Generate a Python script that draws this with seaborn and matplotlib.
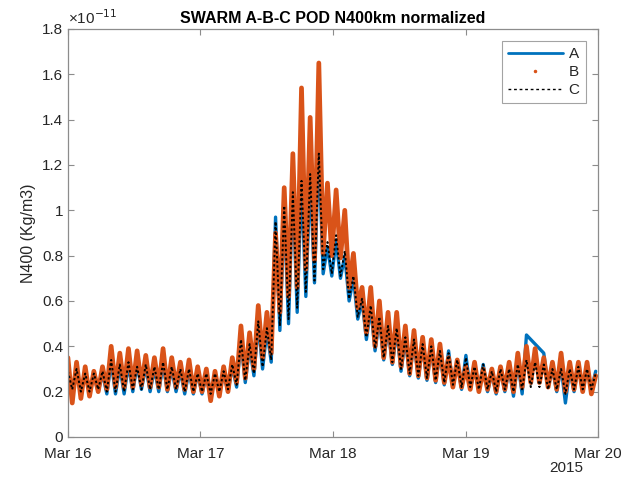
import numpy as np
import pandas as pd
import matplotlib
matplotlib.use("Agg")
import matplotlib.pyplot as plt
import matplotlib.dates as mdates
from matplotlib.lines import Line2D
import seaborn as sns

# ---- data (units of 1e-11 Kg/m3), sampled every 47 min from 2015-03-16 00:00 ----
start_time = "2015-03-16 00:00"
n_samples = 123
sample_step = "47min"

swarm_a = [0.30, 0.20, 0.29, 0.20, 0.28, 0.21, 0.27, 0.20, 0.28, 0.19,
           0.33, 0.19, 0.31, 0.19, 0.32, 0.20, 0.32, 0.21, 0.31, 0.20,
           0.30, 0.20, 0.32, 0.20, 0.30, 0.20, 0.29, 0.19, 0.29, 0.19,
           0.28, 0.19, 0.27, 0.18, 0.27, 0.19, 0.28, 0.20, 0.31, 0.22,
           0.42, 0.24, 0.40, 0.27, 0.50, 0.30, 0.47, 0.33, 0.97, 0.47,
           1.00, 0.50, 1.10, 0.55, 1.13, 0.62, 1.15, 0.68, 1.27, 0.72,
           0.84, 0.71, 0.87, 0.70, 0.80, 0.60, 0.70, 0.52, 0.60, 0.43,
           0.57, 0.38, 0.52, 0.34, 0.48, 0.32, 0.47, 0.29, 0.43, 0.27,
           0.42, 0.26, 0.40, 0.25, 0.39, 0.24, 0.37, 0.23, 0.38, 0.22,
           0.33, 0.21, 0.36, 0.21, 0.30, 0.20, 0.32, 0.20, 0.28, 0.19,
           0.30, 0.20, 0.30, 0.18, 0.33, 0.19, 0.45, None, None, None,
           0.37, 0.22, 0.30, 0.20, 0.31, 0.15, 0.30, 0.20, 0.32, 0.20,
           0.31, 0.21, 0.29]

swarm_b = [0.35, 0.15, 0.33, 0.17, 0.31, 0.18, 0.29, 0.20, 0.31, 0.21,
           0.40, 0.22, 0.37, 0.22, 0.39, 0.22, 0.38, 0.23, 0.36, 0.22,
           0.35, 0.22, 0.39, 0.21, 0.35, 0.22, 0.33, 0.21, 0.34, 0.20,
           0.31, 0.20, 0.30, 0.16, 0.29, 0.18, 0.31, 0.20, 0.35, 0.24,
           0.49, 0.26, 0.46, 0.30, 0.58, 0.35, 0.55, 0.37, 0.90, 0.55,
           1.10, 0.62, 1.25, 0.66, 1.54, 0.74, 1.41, 0.78, 1.65, 0.81,
           1.12, 0.80, 1.09, 0.79, 1.00, 0.66, 0.81, 0.57, 0.66, 0.46,
           0.66, 0.40, 0.60, 0.35, 0.55, 0.33, 0.55, 0.31, 0.49, 0.28,
           0.47, 0.27, 0.44, 0.26, 0.43, 0.25, 0.41, 0.24, 0.35, 0.22,
           0.34, 0.22, 0.31, 0.21, 0.33, 0.20, 0.30, 0.21, 0.30, 0.20,
           0.31, 0.21, 0.33, 0.20, 0.37, 0.22, 0.40, 0.24, 0.39, 0.24,
           0.35, 0.22, 0.33, 0.21, 0.37, 0.20, 0.33, 0.21, 0.33, 0.20,
           0.33, 0.19, 0.27]

swarm_c = [0.29, 0.21, 0.30, 0.20, 0.28, 0.20, 0.28, 0.21, 0.29, 0.20,
           0.34, 0.20, 0.32, 0.20, 0.33, 0.21, 0.31, 0.21, 0.32, 0.21,
           0.31, 0.21, 0.33, 0.21, 0.31, 0.21, 0.30, 0.20, 0.30, 0.20,
           0.28, 0.20, 0.28, 0.19, 0.28, 0.20, 0.29, 0.21, 0.32, 0.23,
           0.43, 0.25, 0.41, 0.28, 0.51, 0.31, 0.48, 0.34, 0.95, 0.49,
           1.02, 0.52, 1.08, 0.57, 1.13, 0.64, 1.16, 0.69, 1.25, 0.74,
           0.86, 0.72, 0.89, 0.71, 0.82, 0.61, 0.71, 0.53, 0.61, 0.44,
           0.58, 0.39, 0.53, 0.35, 0.49, 0.33, 0.48, 0.30, 0.44, 0.28,
           0.43, 0.27, 0.41, 0.26, 0.40, 0.25, 0.38, 0.24, 0.37, 0.23,
           0.34, 0.22, 0.35, 0.22, 0.31, 0.21, 0.32, 0.21, 0.29, 0.20,
           0.30, 0.21, 0.30, 0.20, 0.32, 0.21, 0.34, 0.22, 0.33, 0.22,
           0.32, 0.21, 0.30, 0.21, 0.30, 0.19, 0.30, 0.21, 0.31, 0.21,
           0.30, 0.21, 0.28]

series_names = ["A", "B", "C"]
x_tick_labels = ["Mar 16", "Mar 17", "Mar 18", "Mar 19", "Mar 20"]
y_ticks = [0, 0.2, 0.4, 0.6, 0.8, 1, 1.2, 1.4, 1.6, 1.8]

# ---- build frame ----
times = pd.date_range(start_time, periods=n_samples, freq=sample_step)
df = pd.DataFrame({"time": times,
                   "A": pd.to_numeric(pd.Series(swarm_a), errors="coerce"),
                   "B": swarm_b, "C": swarm_c})

sns.set_theme(style="white")
plt.rcParams["font.family"] = ["Liberation Sans", "DejaVu Sans"]

col_a = "#0072BD"
col_b = "#D95319"
axis_col = "#262626"

fig = plt.figure(figsize=(6.23, 4.80), dpi=100)
ax = fig.add_axes([0.109, 0.0896, 0.851, 0.850])

da = df[["time", "A"]].dropna()
sns.lineplot(data=da, x="time", y="A", ax=ax, color=col_a, lw=2.4,
             estimator=None, sort=False, legend=False)
sns.lineplot(data=df, x="time", y="B", ax=ax, color=col_b, lw=3.4,
             estimator=None, sort=False, legend=False)
sns.lineplot(data=df, x="time", y="C", ax=ax, color="black", lw=1.4,
             linestyle=(0, (1.2, 1.2)), estimator=None, sort=False, legend=False)

x0 = pd.Timestamp("2015-03-16")
x1 = pd.Timestamp("2015-03-20")
ax.set_xlim(x0, x1)
ax.set_ylim(0, 1.8)
ax.set_xticks(pd.date_range(x0, x1, freq="D"))
ax.set_xticklabels(x_tick_labels)
ax.set_yticks(y_ticks)
ax.set_yticklabels([("%g" % v) for v in y_ticks])

ax.set_xlabel("")
ax.set_ylabel("N400 (Kg/m3)", fontsize=11.5, color=axis_col)
ax.set_title("SWARM A-B-C POD N400km normalized", fontsize=11.5,
             fontweight="bold", color="black", pad=4)

for s in ax.spines.values():
    s.set_color("#8c8c8c")
    s.set_linewidth(0.9)
ax.tick_params(direction="in", length=4, width=0.8, color="#8c8c8c",
               top=True, right=True, labelsize=11, labelcolor=axis_col,
               bottom=True, left=True)
ax.tick_params(axis="x", pad=7)

ax.text(0.0, 1.005, "×10$^{-11}$", transform=ax.transAxes, fontsize=11,
        color=axis_col, ha="left", va="bottom")
ax.text(0.94, -0.058, "2015", transform=ax.transAxes, fontsize=11,
        color=axis_col, ha="center", va="top")

handles = [Line2D([], [], color=col_a, lw=2.0),
           Line2D([], [], color=col_b, lw=0, marker=".", markersize=3),
           Line2D([], [], color="black", lw=1.0, linestyle=(0, (2, 2)))]
leg = ax.legend(handles, series_names, loc="upper right", fontsize=11,
                frameon=True, fancybox=False, handlelength=3.6,
                borderaxespad=0.8, labelspacing=0.25, handletextpad=0.4,
                borderpad=0.4)
leg.get_frame().set_edgecolor("#8c8c8c")
leg.get_frame().set_linewidth(0.8)

fig.savefig("out.png", dpi=100)
